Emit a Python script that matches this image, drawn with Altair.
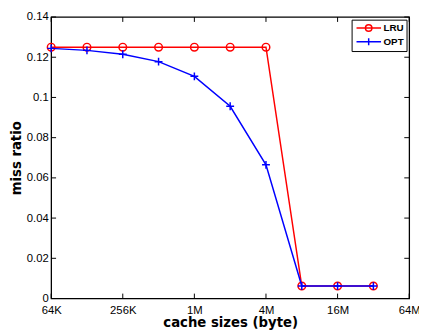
import altair as alt
import pandas as pd

sizes_kb = [64, 128, 256, 512, 1024, 2048, 4096, 8192, 16384, 32768]
lru = [0.125, 0.125, 0.125, 0.125, 0.125, 0.125, 0.125, 0.0062, 0.0062, 0.0062]
opt = [0.1244, 0.1234, 0.1215, 0.1178, 0.1105, 0.0956, 0.0665, 0.0062, 0.0062, 0.0062]
series = ["LRU", "OPT"]
colors = ["#ff0000", "#0000ff"]
x_ticks = [64, 256, 1024, 4096, 16384, 65536]
y_ticks = [0, 0.02, 0.04, 0.06, 0.08, 0.10, 0.12, 0.14]

df = pd.DataFrame({
    "size": sizes_kb * 2,
    "ratio": lru + opt,
    "series": ["LRU"] * len(sizes_kb) + ["OPT"] * len(sizes_kb),
})
xt = pd.DataFrame({"t": x_ticks})
yt = pd.DataFrame({"v": y_ticks})

W, H = 365, 287
FONT = "Liberation Sans"
TFONT = "DejaVu Sans"
xscale = alt.Scale(type="log", base=2, domain=[64, 65536])
yscale = alt.Scale(domain=[0, 0.14], nice=False, zero=False)

label_expr = "datum.value >= 1024 ? (datum.value / 1024) + 'M' : datum.value + 'K'"

x_axis = alt.Axis(
    values=x_ticks, labelExpr=label_expr, title="cache sizes (byte)",
    ticks=False, domain=False, grid=False, labelFlush=False, labelPadding=6,
    labelFontSize=11.5, labelColor="black", labelFont=FONT,
    titleFontSize=13.5, titleFontWeight="bold", titleFont=TFONT, titleColor="black",
    titleY=29, titleBaseline="alphabetic")
y_axis = alt.Axis(
    values=y_ticks, format="~f", title="miss ratio",
    ticks=False, domain=False, grid=False, labelPadding=3, labelFlush=False,
    labelFontSize=11.5, labelColor="black", labelFont=FONT,
    titleFontSize=13.5, titleFontWeight="bold", titleFont=TFONT, titleColor="black",
    titleX=-31, titleY=H / 2, titleBaseline="alphabetic")

x_enc = alt.X("size:Q", scale=xscale, axis=x_axis)
y_enc = alt.Y("ratio:Q", scale=yscale, axis=y_axis)

base = alt.Chart(df).encode(x=x_enc, y=y_enc)

plus_path = "M-1,0L1,0M0,-1L0,1"
lru_line = base.transform_filter("datum.series == 'LRU'").mark_line(color=colors[0], strokeWidth=1.5)
lru_pts = base.transform_filter("datum.series == 'LRU'").mark_point(
    shape="circle", filled=False, color=colors[0], size=60, strokeWidth=1.5, opacity=1)
opt_line = base.transform_filter("datum.series == 'OPT'").mark_line(color=colors[1], strokeWidth=1.5)
opt_pts = base.transform_filter("datum.series == 'OPT'").mark_point(
    shape=plus_path, filled=False, color=colors[1], size=64, strokeWidth=1.5, opacity=1)

leg_lru = "M-0.7,0L4.3,0M2.44,0A0.66,0.66,0,1,1,1.12,0A0.66,0.66,0,1,1,2.44,0"
leg_opt = "M-0.7,0L4.3,0M1.78,-0.7L1.78,0.7"
leg_cfg = dict(title=None, orient="none", legendX=306.3, legendY=2.7,
               strokeColor="black", fillColor="white", padding=2.5,
               symbolSize=100, symbolStrokeWidth=1.5, labelOffset=18,
               labelFontSize=10, labelFontWeight="bold", labelFont=FONT,
               labelColor="black", rowPadding=0)
legend_layer = alt.Chart(df).transform_filter("false").mark_point(
    filled=False, strokeWidth=1.5, opacity=1).encode(
    x=x_enc,
    y=y_enc,
    color=alt.Color("series:N", scale=alt.Scale(domain=series, range=colors),
                    legend=alt.Legend(**leg_cfg)),
    shape=alt.Shape("series:N", scale=alt.Scale(domain=series, range=[leg_lru, leg_opt]),
                    legend=alt.Legend(**leg_cfg)),
)

tick_x = alt.X("t:Q", scale=xscale, axis=x_axis)
tick_y = alt.Y("v:Q", scale=yscale, axis=y_axis)
bottom_ticks = alt.Chart(xt).mark_rule(color="black", strokeWidth=1).encode(
    x=tick_x, y=alt.value(H), y2=alt.value(H - 5))
top_ticks = alt.Chart(xt).mark_rule(color="black", strokeWidth=1).encode(
    x=tick_x, y=alt.value(0), y2=alt.value(5))
left_ticks = alt.Chart(yt).mark_rule(color="black", strokeWidth=1).encode(
    y=tick_y, x=alt.value(0), x2=alt.value(5))
right_ticks = alt.Chart(yt).mark_rule(color="black", strokeWidth=1).encode(
    y=tick_y, x=alt.value(W), x2=alt.value(W - 5))

chart = alt.layer(
    lru_line, lru_pts, opt_line, opt_pts, legend_layer,
    bottom_ticks, top_ticks, left_ticks, right_ticks,
).properties(
    width=W, height=H,
    autosize=alt.AutoSizeParams(type="none"),
    padding={"left": 44, "top": 6, "right": 10, "bottom": 34},
).configure(
    font=FONT, background="white",
    view=alt.ViewConfig(stroke="black", strokeWidth=1.3),
)

chart.save("out.html", embed_options={"renderer": "svg", "actions": False})
